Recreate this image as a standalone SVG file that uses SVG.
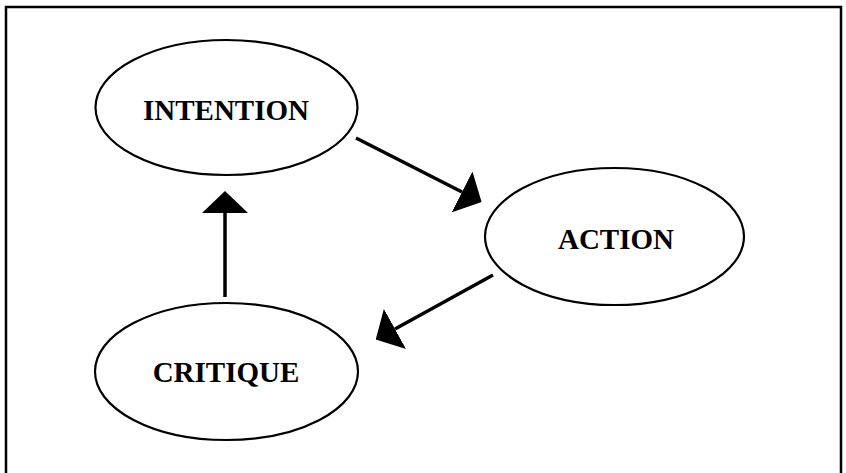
<svg xmlns="http://www.w3.org/2000/svg" width="846" height="473" viewBox="0 0 846 473">
  <style>
    .frame { fill: none; stroke: #000; stroke-width: 2.5; }
    .node ellipse { fill: #fff; stroke: #000; stroke-width: 2.2; }
    .node text { font-family: "Liberation Serif", "Times New Roman", serif; font-weight: bold; font-size: 29px; text-anchor: middle; fill: #000; }
    .conn line { stroke: #000; stroke-width: 3.5; marker-end: url(#head); }
  </style>
  <defs>
    <marker id="head" viewBox="0 0 22 46" refX="0" refY="23" markerWidth="22" markerHeight="46" markerUnits="userSpaceOnUse" orient="auto">
      <path d="M0,0 L22,23 L0,46 Z" fill="#000"/>
    </marker>
  </defs>
  <rect width="846" height="473" fill="#fff"/>
  <path class="frame" d="M6,473 V7 H841 V473"/>
  <g id="intention" class="node">
    <ellipse cx="226.5" cy="107.5" rx="131" ry="67.5"/>
    <text x="226" y="120">INTENTION</text>
  </g>
  <g id="action" class="node">
    <ellipse cx="614.5" cy="236.5" rx="129.5" ry="68.5"/>
    <text x="616" y="249">ACTION</text>
  </g>
  <g id="critique" class="node">
    <ellipse cx="226.5" cy="371.5" rx="131.5" ry="68.5"/>
    <text x="226" y="382">CRITIQUE</text>
  </g>
  <g id="connectors" class="conn">
    <line x1="356" y1="138" x2="462" y2="192"/>
    <line x1="493" y1="275" x2="395" y2="329"/>
    <line x1="225" y1="297" x2="225" y2="213"/>
  </g>
</svg>
